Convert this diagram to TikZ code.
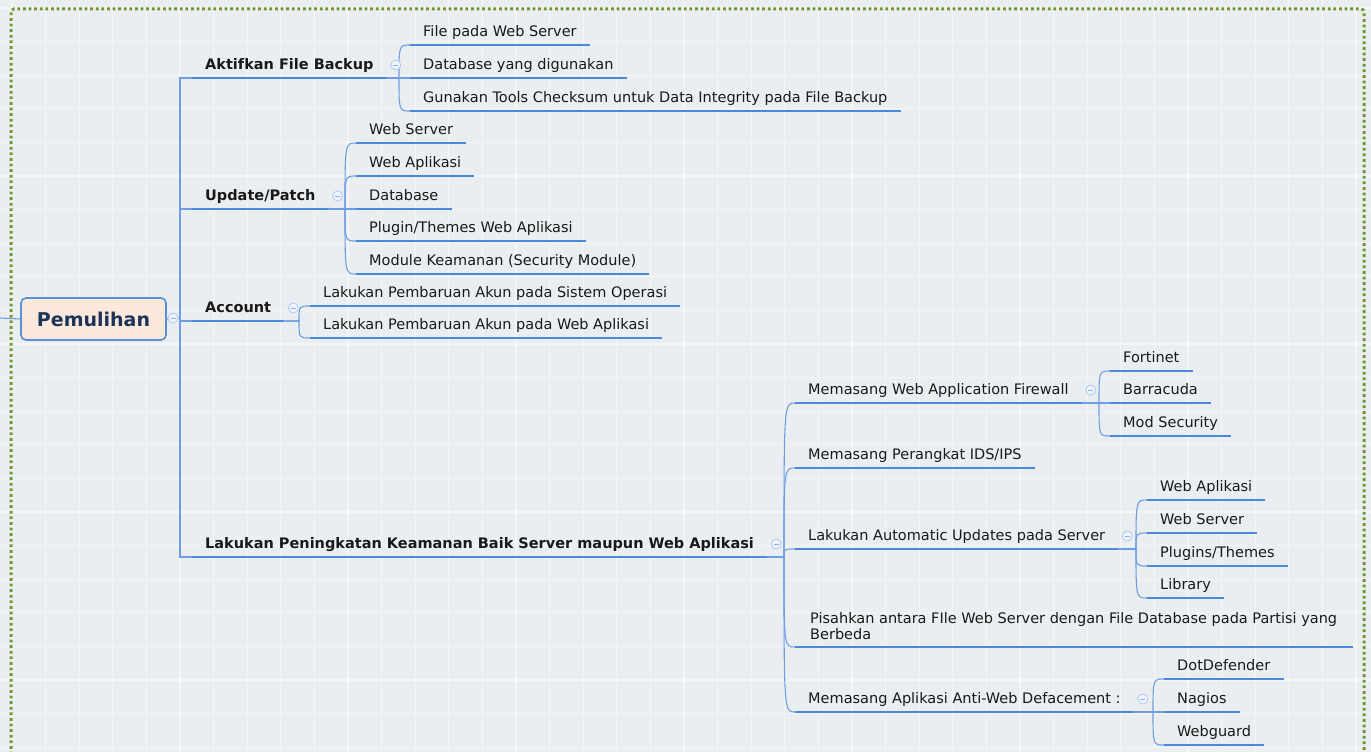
\documentclass[tikz,border=0pt]{standalone}
\usepackage{fontspec}
\setmainfont{DejaVu Sans}
\usetikzlibrary{calc}
\definecolor{bg}{RGB}{235,238,240}
\definecolor{tile}{RGB}{244,245,246}
\definecolor{ulc}{RGB}{76,137,220}
\definecolor{cnc}{RGB}{110,157,228}
\definecolor{brd}{RGB}{112,150,48}
\definecolor{rootfill}{RGB}{253,233,220}
\definecolor{rootdraw}{RGB}{90,142,215}
\definecolor{roottext}{RGB}{28,52,88}
\definecolor{txt}{RGB}{25,25,25}
\tikzset{
  topic/.style={anchor=south west, inner xsep=13pt, inner ysep=0pt, text height=10pt, text depth=8pt, font=\fontsize{14.5}{16}\selectfont, text=txt},
  maintopic/.style={topic, font=\fontsize{14.5}{16}\selectfont\bfseries},
  ul/.style={draw=ulc, line width=2.8pt},
  conn/.style={draw=cnc, line width=1.1pt},
  collapse/.style={circle, draw=cnc!55, fill=white!88!cnc, line width=0.8pt, minimum size=10pt, inner sep=0pt,
    path picture={\draw[cnc!80, line width=0.8pt] ([xshift=-2.5pt]path picture bounding box.center) -- ([xshift=2.5pt]path picture bounding box.center);}},
  rootbox/.style={rectangle, rounded corners=5pt, draw=rootdraw, line width=1.6pt, fill=rootfill, minimum width=145pt, minimum height=42pt, font=\fontsize{19}{22}\selectfont\bfseries, text=roottext},
  frame/.style={draw=brd, line width=3pt, dash pattern=on 2.8pt off 2.8pt, rounded corners=3pt}
}
\newcommand\tp[5]{\node[#1] (#2) at (#3,#4) {#5}; \draw[ul] (#2.south west) -- (#2.south east);}
\newcommand\br[2]{\draw[conn] let \p1=(#1.south east), \p2=(#2.south west) in (\p1) -- (\x2-11pt,\y1) .. controls (\x2-11pt,\y2) and (\x2-11pt,\y2) .. (\p2);}
\newcommand\cl[1]{\node[collapse] (col-#1) at ($(#1.south east)+(9,-13)$) {};}
\begin{document}
\begin{tikzpicture}[x=1pt,y=-1pt]
\useasboundingbox (0,0) rectangle (1371,752);
\fill[bg] (0,0) rectangle (1371,752);
\foreach \i in {0,...,40} {\draw[tile, line width=1.3pt] (12+33.6*\i,0) -- (12+33.6*\i,752);}
\foreach \j in {0,...,22} {\draw[tile, line width=1.3pt] (0,8+33.6*\j) -- (1371,8+33.6*\j);}
\draw[frame] (11,760) -- (11,9) -- (1364,9) -- (1364,760);

% root
\node[rootbox] (root) at (93.5,319) {Pemulihan};
\coordinate (lstub) at (0,318);
\coordinate (tr) at (180,318);
\draw[conn] (lstub) -- (root.west);
\draw[conn] (root.east) -- (tr);
\node[collapse] (col-root) at (173,318) {};

% main topics
\tp{maintopic}{fb}{192}{78}{Aktifkan File Backup}
\tp{maintopic}{up}{192}{209}{Update/Patch}
\tp{maintopic}{ac}{192}{321}{Account}
\tp{maintopic}{pk}{192}{557}{Lakukan Peningkatan Keamanan Baik Server maupun Web Aplikasi}
\foreach \m in {fb,up,ac,pk} {\draw[conn] (tr) |- (\m.south west);}

% Aktifkan File Backup
\tp{topic}{fba}{410}{45}{File pada Web Server}
\tp{topic}{fbb}{410}{78}{Database yang digunakan}
\tp{topic}{fbc}{410}{111}{Gunakan Tools Checksum untuk Data Integrity pada File Backup}
\foreach \c in {fba,fbb,fbc} {\br{fb}{\c}}
\cl{fb}

% Update/Patch
\tp{topic}{upa}{356}{143}{Web Server}
\tp{topic}{upb}{356}{176}{Web Aplikasi}
\tp{topic}{upc}{356}{209}{Database}
\tp{topic}{upd}{356}{241}{Plugin/Themes Web Aplikasi}
\tp{topic}{upe}{356}{274}{Module Keamanan (Security Module)}
\foreach \c in {upa,upb,upc,upd,upe} {\br{up}{\c}}
\cl{up}

% Account
\tp{topic}{aca}{310}{306}{Lakukan Pembaruan Akun pada Sistem Operasi}
\tp{topic}{acb}{310}{338}{Lakukan Pembaruan Akun pada Web Aplikasi}
\foreach \c in {aca,acb} {\br{ac}{\c}}
\cl{ac}

% Peningkatan
\tp{topic}{pka}{795}{403}{Memasang Web Application Firewall}
\tp{topic}{pkb}{795}{468}{Memasang Perangkat IDS/IPS}
\tp{topic}{pkc}{795}{549}{Lakukan Automatic Updates pada Server}
\node[anchor=north west, inner sep=0pt, align=left, font=\fontsize{14.5}{16}\selectfont, text=txt] (pkd) at (810,612) {Pisahkan antara FIle Web Server dengan File Database pada Partisi yang\\Berbeda};
\coordinate (pkds) at (795,647);
\coordinate (pkde) at (1353,647);
\draw[ul] (pkds) -- (pkde);
\tp{topic}{pke}{795}{712}{Memasang Aplikasi Anti-Web Defacement :}
\foreach \c in {pka,pkb,pkc,pke} {\br{pk}{\c}}
\draw[conn] let \p1=(pk.south east), \p2=(pkds) in (\p1) -- (\x2-11pt,\y1) .. controls (\x2-11pt,\y2) and (\x2-11pt,\y2) .. (\p2);
\cl{pk}

% WAF
\tp{topic}{pkaa}{1110}{371}{Fortinet}
\tp{topic}{pkab}{1110}{403}{Barracuda}
\tp{topic}{pkac}{1110}{436}{Mod Security}
\foreach \c in {pkaa,pkab,pkac} {\br{pka}{\c}}
\cl{pka}

% Automatic updates
\tp{topic}{pkca}{1147}{500}{Web Aplikasi}
\tp{topic}{pkcb}{1147}{533}{Web Server}
\tp{topic}{pkcc}{1147}{566}{Plugins/Themes}
\tp{topic}{pkcd}{1147}{598}{Library}
\foreach \c in {pkca,pkcb,pkcc,pkcd} {\br{pkc}{\c}}
\cl{pkc}

% Anti-web defacement
\tp{topic}{pkea}{1164}{679}{DotDefender}
\tp{topic}{pkeb}{1164}{712}{Nagios}
\tp{topic}{pkec}{1164}{745}{Webguard}
\foreach \c in {pkea,pkeb,pkec} {\br{pke}{\c}}
\cl{pke}
\end{tikzpicture}
\end{document}
